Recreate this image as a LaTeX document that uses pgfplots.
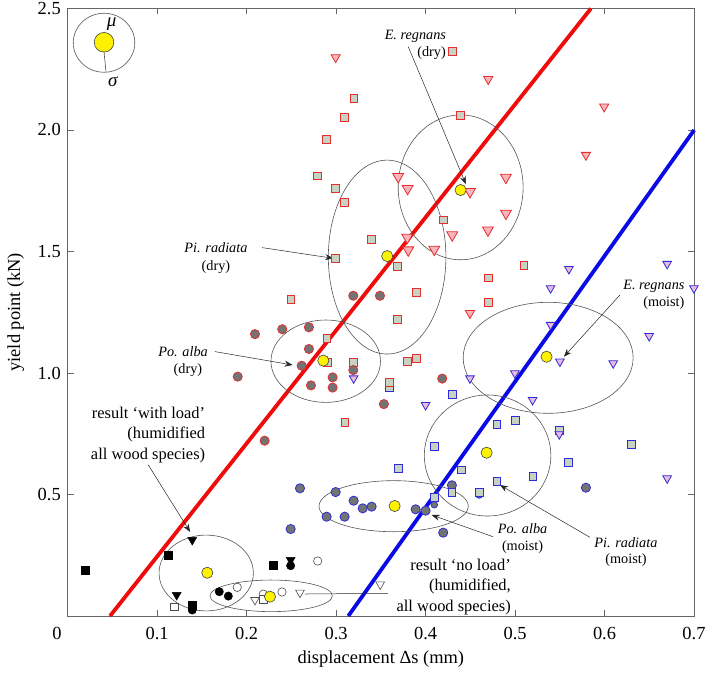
\documentclass[border=0pt]{standalone}
\usepackage{fontspec}
\setmainfont{Liberation Serif}
\usepackage{pgfplots}
\pgfplotsset{compat=1.18}
\usetikzlibrary{arrows.meta}

\definecolor{sqfill}{RGB}{200,210,195}
\definecolor{redE}{RGB}{228,45,45}
\definecolor{blueE}{RGB}{45,45,215}
\definecolor{pinkA}{RGB}{248,182,188}
\definecolor{pinkB}{RGB}{236,186,222}
\definecolor{grayC}{RGB}{115,115,115}
\definecolor{ellc}{RGB}{85,85,85}
\definecolor{lineR}{RGB}{240,10,10}
\definecolor{lineB}{RGB}{10,10,230}

\pgfplotsset{
 rsq/.style={only marks, mark=square*, mark size=3.9bp, mark options={draw=redE, fill=sqfill, line width=0.8bp}},
 bsq/.style={only marks, mark=square*, mark size=3.9bp, mark options={draw=blueE, fill=sqfill, line width=0.8bp}},
 rci/.style={only marks, mark=*, mark size=4.6bp, mark options={draw=redE, fill=grayC, line width=0.8bp}},
 bci/.style={only marks, mark=*, mark size=4.6bp, mark options={draw=blueE, fill=grayC, line width=0.8bp}},
 rtri/.style={only marks, mark=triangle*, mark size=#1, mark options={rotate=180, draw=redE, fill=pinkA, line width=0.8bp}},
 btri/.style={only marks, mark=triangle*, mark size=5bp, mark options={rotate=180, draw=blueE, fill=pinkB, line width=0.8bp}},
 ksq/.style={only marks, mark=square*, mark size=3.8bp, mark options={draw=black, fill=black}},
 kci/.style={only marks, mark=*, mark size=4.2bp, mark options={draw=black, fill=black}},
 ktri/.style={only marks, mark=triangle*, mark size=5.2bp, mark options={rotate=180, draw=black, fill=black}},
 osq/.style={only marks, mark=square*, mark size=3.6bp, mark options={draw=black!70, fill=white, line width=0.6bp}},
 oci/.style={only marks, mark=*, mark size=4.2bp, mark options={draw=black!70, fill=white, line width=0.6bp}},
 otri/.style={only marks, mark=triangle*, mark size=5bp, mark options={rotate=180, draw=black!70, fill=white, line width=0.6bp}},
 ymean/.style={only marks, mark=*, mark size=#1, mark options={draw=black!75, fill=yellow, line width=0.6bp}},
}
\tikzset{
 ell/.style={draw=ellc, line width=0.6bp},
 ann/.style={-{Stealth[length=8bp,width=6bp]}, line width=0.5bp, black!85},
}

\begin{document}
\begin{tikzpicture}
\begin{axis}[
 scale only axis, width=626.3bp, height=607.5bp,
 xmin=0, xmax=0.7, ymin=0, ymax=2.5,
 clip=false,
 axis line style={black!60, line width=0.6bp},
 every tick/.style={black!60, line width=0.6bp},
 major tick length=6bp,
 tick align=inside,
 xtick={0.1,0.2,0.3,0.4,0.5,0.6,0.7},
 xticklabels={0.1,0.2,0.3,0.4,0.5,0.6,0.7},
 extra x ticks={0}, extra x tick labels={0},
 extra x tick style={xticklabel style={xshift=-10.7bp}, major tick length=0pt},
 ytick={0.5,1,1.5,2,2.5}, yticklabels={0.5,1.0,1.5,2.0,2.5},
 ticklabel style={font=\fontsize{18.5}{20}\selectfont},
 xticklabel style={yshift=-8bp},
 yticklabel style={xshift=-3.4bp},
 /pgf/number format/assume math mode=true,
 xlabel={displacement Δs (mm)}, ylabel={yield point (kN)},
 every axis x label/.style={at={(axis description cs:0.5,0)}, yshift=-43bp, anchor=center, font=\fontsize{18.5}{20}\selectfont},
 every axis y label/.style={at={(axis description cs:0,0.5)}, xshift=-52bp, rotate=90, anchor=center, font=\fontsize{18.5}{20}\selectfont},
]
\coordinate (LL) at (rel axis cs:0,0);
\coordinate (UR) at (rel axis cs:1,1);

% fit lines
\addplot[lineR, line width=3.8bp, no marks] coordinates {(0.0473,0) (0.5848,2.5)};
\addplot[lineB, line width=3.8bp, no marks] coordinates {(0.3136,0) (0.7002,2.0)};

% ellipses (mean +- std)
\draw[ell] (axis cs:0.0406,2.359) ellipse [x radius=0.0344, y radius=0.1214];
\draw[ell] (axis cs:0.4392,1.764) ellipse [x radius=0.0698, y radius=0.298];
\draw[ell] (axis cs:0.3570,1.477) ellipse [x radius=0.0657, y radius=0.399];
\draw[ell] (axis cs:0.2884,1.0486) ellipse [x radius=0.0612, y radius=0.1695];
\draw[ell] (axis cs:0.5370,1.0625) ellipse [x radius=0.0950, y radius=0.2284];
\draw[ell] (axis cs:0.4693,0.6605) ellipse [x radius=0.0707, y radius=0.249];
\draw[ell] (axis cs:0.3643,0.4519) ellipse [x radius=0.0834, y radius=0.105];
\draw[ell] (axis cs:0.1548,0.177) ellipse [x radius=0.0527, y radius=0.156];
\draw[ell] (axis cs:0.2274,0.083) ellipse [x radius=0.0684, y radius=0.065];

% Pi. radiata dry
\addplot[rsq] coordinates {
(0.4298,2.322) (0.3199,2.130) (0.3095,2.052) (0.2894,1.962) (0.2794,1.811)
(0.2995,1.761) (0.3095,1.702) (0.4389,2.060) (0.2995,1.470) (0.2495,1.302)
(0.3397,1.550) (0.3688,1.440) (0.3688,1.222) (0.2898,1.142) (0.2905,1.043)
(0.3196,1.042) (0.3594,0.959) (0.3099,0.796) (0.4197,1.630) (0.5099,1.442)
(0.4699,1.391) (0.4699,1.292) (0.3900,1.331) (0.3900,1.060) (0.3795,1.049)};
% E. regnans dry
\addplot[rtri=5.3bp] coordinates {
(0.2995,2.299) (0.4700,2.209) (0.5996,2.096) (0.5792,1.897) (0.4496,1.246)};
\addplot[rtri=6.3bp] coordinates {
(0.4898,1.805) (0.4496,1.746) (0.3694,1.808) (0.3799,1.759) (0.4898,1.657)
(0.4697,1.588) (0.4298,1.568) (0.3795,1.558) (0.3806,1.506) (0.4097,1.509)};
% Po. alba dry
\addplot[rci] coordinates {
(0.2093,1.160) (0.2398,1.180) (0.2696,1.188) (0.2696,1.099) (0.2615,1.030)
(0.1900,0.985) (0.2719,0.949) (0.2961,0.982) (0.2961,0.940) (0.3192,1.318)
(0.3490,1.318) (0.3534,0.872) (0.3192,1.012) (0.4186,0.977) (0.2201,0.7215)};
% Po. alba moist
\addplot[bci] coordinates {
(0.2596,0.5255) (0.2995,0.510) (0.3196,0.4745) (0.3297,0.443) (0.3397,0.450)
(0.2894,0.4087) (0.3095,0.4087) (0.2492,0.358) (0.3889,0.439) (0.4000,0.4335)
(0.4197,0.343) (0.4294,0.538) (0.5792,0.528)};
\addplot[bci, mark size=3.3bp] coordinates {(0.4097,0.458) (0.4599,0.498)};
% Pi. radiata moist
\addplot[bsq] coordinates {
(0.4797,0.790) (0.5002,0.8066) (0.4403,0.601) (0.4797,0.5527) (0.5200,0.576)
(0.5594,0.631) (0.6302,0.7066) (0.5494,0.7627) (0.4599,0.508) (0.4097,0.697)
(0.3699,0.609) (0.4294,0.5075) (0.4097,0.487) (0.3594,0.941) (0.4298,0.912)};
\addplot[rsq] coordinates {(0.3594,0.962)};
% E. regnans moist
\addplot[btri] coordinates {
(0.5602,1.428) (0.6700,1.449) (0.6999,1.349) (0.5397,1.349) (0.5397,1.198)
(0.6499,1.152) (0.5501,1.047) (0.6097,1.040) (0.4998,0.999) (0.4496,0.978)
(0.5196,0.889) (0.4000,0.868) (0.3196,0.978) (0.6700,0.5665) (0.5494,0.748)};

% with load (filled black)
\addplot[ksq] coordinates {(0.0197,0.189) (0.1124,0.250) (0.1392,0.045) (0.2298,0.210)};
\addplot[kci] coordinates {(0.1392,0.0247) (0.1694,0.100) (0.1795,0.082) (0.2492,0.207)};
\addplot[ktri] coordinates {(0.1392,0.313) (0.1218,0.0864) (0.2492,0.2305)};
% no load (open)
\addplot[oci] coordinates {(0.2794,0.2263) (0.2395,0.0988) (0.1895,0.118) (0.2186,0.090)};
\addplot[osq] coordinates {(0.2186,0.0687) (0.1191,0.038)};
\addplot[otri] coordinates {(0.2093,0.066) (0.2596,0.096) (0.3493,0.130)};

% means
\addplot[ymean=5.6bp] coordinates {
(0.4391,1.753) (0.3571,1.481) (0.2857,1.051) (0.5352,1.067)
(0.4682,0.672) (0.3654,0.4527) (0.1560,0.178) (0.2261,0.0796)};
% legend symbol
\addplot[ymean=9.8bp] coordinates {(0.0406,2.361)};
\draw[black!70, line width=0.6bp] (axis cs:0.0406,2.322) -- (axis cs:0.0428,2.240);
\node[font=\fontsize{19}{20}\selectfont\itshape] at (axis cs:0.0492,2.436) {μ};
\node[font=\fontsize{19}{20}\selectfont\itshape] at (axis cs:0.0503,2.199) {σ};

% annotations
\begin{scope}[every node/.style={font=\fontsize{14.3}{16}\selectfont, inner sep=0pt}]
\node at (axis cs:0.3886,2.387) {\textit{E. regnans}};
\node at (axis cs:0.4067,2.316) {(dry)};
\node at (axis cs:0.1657,1.514) {\textit{Pi. radiata}};
\node at (axis cs:0.1657,1.436) {(dry)};
\node at (axis cs:0.1289,1.088) {\textit{Po. alba}};
\node at (axis cs:0.1344,1.012) {(dry)};
\node at (axis cs:0.6552,1.358) {\textit{E. regnans}};
\node at (axis cs:0.6663,1.287) {(moist)};
\node at (axis cs:0.5084,0.358) {\textit{Po. alba}};
\node at (axis cs:0.5084,0.285) {(moist)};
\node at (axis cs:0.6239,0.3033) {\textit{Pi. radiata}};
\node at (axis cs:0.6239,0.2305) {(moist)};
\end{scope}
\node[font=\fontsize{16.5}{20.5}\selectfont, align=right, anchor=east, inner sep=0pt] at (axis cs:0.1538,0.746) {result ‘with load’\\(humidified\\all wood species)};
\node[font=\fontsize{16.5}{20.5}\selectfont, align=right, anchor=east, inner sep=0pt] at (axis cs:0.4954,0.1206) {result ‘no load’\\(humidified,\\all wood species)};

\draw[ann] (axis cs:0.3806,2.343) -- (axis cs:0.4451,1.777);
\draw[ann] (axis cs:0.2172,1.516) -- (axis cs:0.2968,1.472);
\draw[ann] (axis cs:0.1646,1.088) -- (axis cs:0.2514,1.033);
\draw[ann] (axis cs:0.6172,1.321) -- (axis cs:0.5546,1.067);
\draw[ann] (axis cs:0.4756,0.326) -- (axis cs:0.4068,0.4156);
\draw[ann] (axis cs:0.5837,0.3239) -- (axis cs:0.4831,0.539);
\draw[ann] (axis cs:0.0901,0.6214) -- (axis cs:0.1368,0.346);
\draw[line width=0.5bp, black!85] (axis cs:0.3579,0.0934) -- (axis cs:0.2652,0.0905);
\end{axis}
\pgfresetboundingbox
\path ([shift={(-67.7bp,-56bp)}]LL) rectangle ([shift={(12bp,8.5bp)}]UR);
\end{tikzpicture}
\end{document}
